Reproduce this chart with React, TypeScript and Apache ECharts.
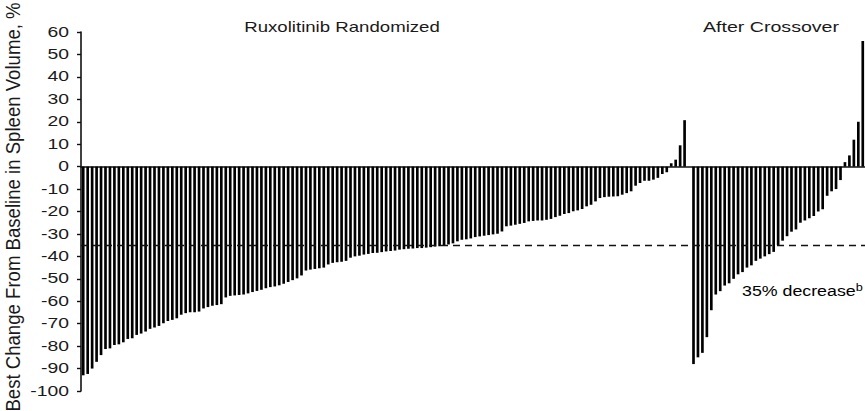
import React, { useEffect, useRef } from "react";
import * as echarts from "echarts";

// Best % change in spleen volume per patient, sorted, ruxolitinib arm
const randomizedChange: number[] = [
  -93, -92.4, -90, -87, -84, -81.3, -81, -79.5, -79.2, -78.3,
  -76.8, -76.5, -75, -74.4, -73.5, -72.3, -71.7, -71, -69.8, -68.8,
  -68.3, -67.6, -66, -65.3, -64.9, -64.9, -64.6, -63.2, -62.6, -62,
  -61.7, -61.3, -58.3, -57.6, -57.4, -57.2, -57, -56.5, -55.9, -55.4,
  -54.9, -54.2, -53.7, -53.4, -52.9, -52.2, -51.4, -50.6, -49.8, -48.5,
  -46.3, -45.9, -45.6, -45.3, -45, -43.6, -42.9, -42.6, -42.4, -42,
  -40.6, -40, -39.7, -39.2, -38.9, -38.5, -38.4, -38.1, -37.8, -37.6,
  -37.4, -37, -36.8, -36.6, -36.5, -36.3, -36.3, -36.1, -35.9, -35.6,
  -35.5, -35.3, -34.7, -34.2, -33.3, -32.6, -32.4, -32, -31.4, -31.1,
  -30.8, -30.5, -30.2, -29.9, -28.9, -26.6, -26.3, -25.9, -25.5, -25.1,
  -24.4, -24.2, -24, -24, -23.7, -23.3, -22.5, -21.9, -21.1, -20.7,
  -19.9, -19.5, -18.9, -17.7, -17, -15.5, -14, -13.6, -13.4, -13.3,
  -13.2, -12.5, -11.8, -11, -8.5, -7.3, -6.3, -6.3, -5.8, -5,
  -3.3, -2.5, 1.5, 3.1, 9.5, 20.7,
];

// Best % change after crossover to ruxolitinib, sorted
const crossoverChange: number[] = [
  -88, -85, -83, -76, -64, -57, -55.5, -53, -52, -50,
  -48, -47, -45, -44, -42, -41, -40, -39, -38, -35,
  -33, -31, -29, -28, -25, -24, -23, -22, -20, -19,
  -13, -11, -10, -6, 2, 5, 12, 20, 56,
];

const groupLabels = ["Ruxolitinib Randomized", "After Crossover"];
const thresholdValue = -35;
const thresholdLabel = "35% decrease";
const yAxisTitle = "Best Change From Baseline in Spleen Volume, %";
const yTickValues = [60, 50, 40, 30, 20, 10, 0, -10, -20, -30, -40, -50, -60, -70, -80, -90, -100];
const yMin = -100;
const yMax = 60;
const yStep = 10;

const FONT = "'Liberation Sans', Arial, sans-serif";
const INK = "#1a1a1a";
// the lettering is set wide
const WIDE = 1.36;

export default function App() {
  const ref = useRef<HTMLDivElement>(null);

  useEffect(() => {
    if (!ref.current) return;
    const chart = echarts.init(ref.current, null, { renderer: "svg" });

    // one empty slot separates the two groups
    const values: (number | null)[] = [...randomizedChange, null, ...crossoverChange];
    const categories = values.map((_, i) => String(i + 1));

    chart.setOption({
      animation: false,
      backgroundColor: "#ffffff",
      grid: { left: 81, width: 785, top: 32, height: 359 },
      xAxis: {
        type: "category",
        data: categories,
        axisLine: { show: true, onZero: true, lineStyle: { color: "#111", width: 1.6 } },
        axisTick: { show: false },
        axisLabel: { show: false },
        splitLine: { show: false },
      },
      yAxis: {
        type: "value",
        min: yMin,
        max: yMax,
        interval: yStep,
        axisLine: { show: true, lineStyle: { color: "#111", width: 1.6 } },
        axisTick: { show: true, inside: false, length: 4, lineStyle: { color: "#111", width: 1.4 } },
        axisLabel: { show: false },
        splitLine: { show: false },
      },
      series: [
        {
          type: "bar",
          data: values,
          barWidth: "60%",
          itemStyle: { color: "#000" },
          markLine: {
            silent: true,
            symbol: "none",
            label: { show: false },
            lineStyle: { color: "#111", type: [7, 5], width: 1.3 },
            data: [{ yAxis: thresholdValue }],
          },
        },
      ],
    });

    // tick labels placed through the value axis' own scale
    const tickTexts = yTickValues.map((v) => {
      const y = chart.convertToPixel({ yAxisIndex: 0 }, v) as number;
      return {
        type: "text",
        x: 69,
        y,
        scaleX: 1.38,
        style: {
          text: String(v),
          fontFamily: FONT,
          fontSize: 14,
          fill: INK,
          textAlign: "right",
          textVerticalAlign: "middle",
        },
      };
    });

    const titleText = (text: string, x: number, y: number, sx: number) => ({
      type: "text",
      x,
      y,
      scaleX: sx,
      style: {
        text,
        fontFamily: FONT,
        fontSize: 14,
        fill: INK,
        textAlign: "center",
        textVerticalAlign: "middle",
      },
    });

    chart.setOption({
      graphic: [
        ...tickTexts,
        {
          type: "text",
          x: 13,
          y: 207,
          rotation: Math.PI / 2,
          scaleY: 1.12,
          style: {
            text: yAxisTitle,
            fontFamily: FONT,
            fontSize: 18.6,
            fill: INK,
            textAlign: "center",
            textVerticalAlign: "middle",
          },
        },
        titleText(groupLabels[0], 342, 27, 1.33),
        titleText(groupLabels[1], 771, 27, 1.4),
        {
          type: "text",
          x: 742,
          y: 291,
          scaleX: 1.27,
          style: {
            text: "{m|" + thresholdLabel + "}{s|b}",
            textVerticalAlign: "middle",
            rich: {
              m: { fontFamily: FONT, fontSize: 14, color: INK },
              s: {
                fontFamily: FONT,
                fontSize: 10,
                color: INK,
                verticalAlign: "top",
                padding: [0, 0, 7, 0],
              },
            },
          },
        },
      ],
    });

    return () => chart.dispose();
  }, []);

  return (
    <div
      ref={ref}
      style={{ position: "absolute", left: 0, top: 0, width: 865, height: 411 }}
    />
  );
}
